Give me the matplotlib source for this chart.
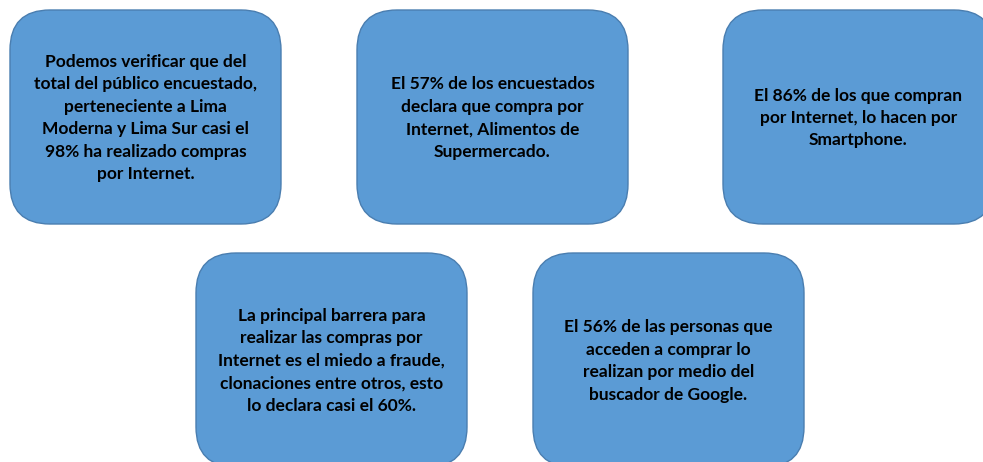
import matplotlib.pyplot as plt
from matplotlib.patches import FancyBboxPatch

# texto de cada recuadro
textos = [
    "Podemos verificar que del\ntotal del público encuestado,\nperteneciente a Lima\nModerna y Lima Sur casi el\n98% ha realizado compras\npor Internet.",
    "El 57% de los encuestados\ndeclara que compra por\nInternet, Alimentos de\nSupermercado.",
    "El 86% de los que compran\npor Internet, lo hacen por\nSmartphone.",
    "La principal barrera para\nrealizar las compras por\nInternet es el miedo a fraude,\nclonaciones entre otros, esto\nlo declara casi el 60%.",
    "El 56% de las personas que\nacceden a comprar lo\nrealizan por medio del\nbuscador de Google.",
]

# esquina superior izquierda de cada recuadro (pixeles)
pos_x = [10, 357, 723, 196, 533]
pos_y = [10, 10, 10, 253, 253]
ancho, alto = 271, 214

relleno = "#5B9BD5"
borde = "#4A7EB0"

fig = plt.figure(figsize=(9.83, 4.62), dpi=100)
ax = fig.add_axes([0, 0, 1, 1])
ax.set_xlim(0, 983)
ax.set_ylim(462, 0)
ax.axis("off")

for t, x, y in zip(textos, pos_x, pos_y):
    caja = FancyBboxPatch((x, y), ancho, alto,
                          boxstyle="round,pad=0,rounding_size=40",
                          facecolor=relleno, edgecolor=borde, linewidth=1.0)
    ax.add_patch(caja)
    ax.text(x + ancho / 2, y + alto / 2 + 1, t, ha="center", va="center",
            fontsize=12.5, fontweight="bold", family="Lato",
            linespacing=1.5, color="black")

fig.savefig("out.png", dpi=100)
